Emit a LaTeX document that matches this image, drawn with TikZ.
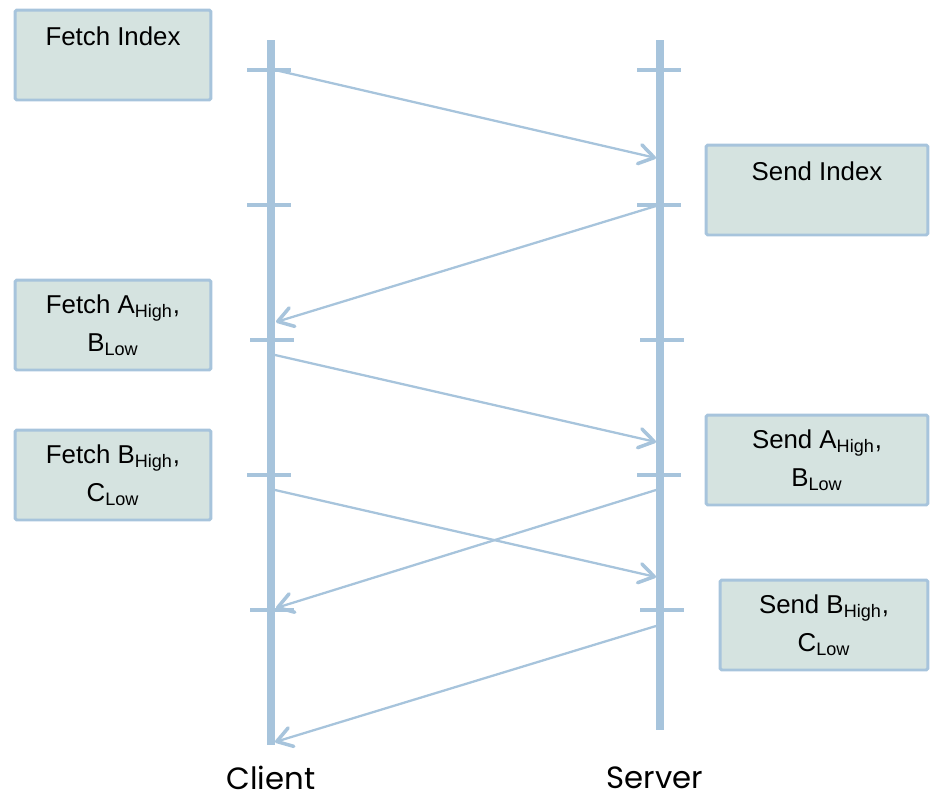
\documentclass[tikz,border=0pt]{standalone}
\usepackage{fontspec}
\setmainfont{Liberation Sans}
\newfontfamily\actorfont{Poppins}
\usetikzlibrary{arrows.meta}
\definecolor{lifeblue}{HTML}{A7C4DC}
\definecolor{boxfill}{HTML}{D5E3E0}

\begin{document}
\begin{tikzpicture}[x=0.02cm,y=-0.02cm,
  lifeline/.style={draw=lifeblue,line width=5pt},
  tick/.style={draw=lifeblue,line width=2.3pt},
  msg/.style={draw=lifeblue,line width=1.3pt,
    -{Straight Barb[length=8.5pt,width=11pt,line width=2pt,round]}},
  box/.style={draw=lifeblue,fill=boxfill,line width=1.7pt,rounded corners=1pt,
    align=center,inner sep=0pt,minimum height=1.8cm,
    font=\fontsize{14.7}{21.5}\selectfont},
  actor/.style={inner sep=0pt,font=\actorfont\fontsize{17.5}{20}\selectfont}]
\useasboundingbox (0,0) rectangle (930,798);

% lifelines with their ticks
\draw[lifeline] (271,40) -- (271,745);
\draw[lifeline] (660,40) -- (660,730);
\foreach \y/\dx in {70/0,205/0,340/3,475/0,610/3} {
  \draw[tick] (247+\dx,\y) -- (291+\dx,\y);
  \draw[tick] (637+\dx,\y) -- (681+\dx,\y);
}

% end points of the messages
\coordinate (c1) at (275,70);   \coordinate (s1) at (656,158);
\coordinate (s2) at (656,206);  \coordinate (c2) at (276,322);
\coordinate (c3) at (275,355);  \coordinate (s3) at (656,442);
\coordinate (s4) at (656,490);  \coordinate (c4) at (276,608);
\coordinate (c5) at (275,490);  \coordinate (s5) at (656,577);
\coordinate (s6) at (656,626);  \coordinate (c6) at (275,742);

\draw[msg] (c1) -- (s1);
\draw[msg] (s2) -- (c2);
\draw[msg] (c3) -- (s3);
\draw[msg] (s4) -- (c4);
\draw[msg] (c5) -- (s5);
\draw[msg] (s6) -- (c6);

% client side steps
\node[box,minimum width=3.92cm] (fetchidx) at (113,55) {Fetch Index\\\mbox{}};
\node[box,minimum width=3.92cm] (fetchab) at (113,325)
  {Fetch A\textsubscript{High},\\B\textsubscript{Low}};
\node[box,minimum width=3.92cm] (fetchbc) at (113,475)
  {Fetch B\textsubscript{High},\\C\textsubscript{Low}};

% server side steps
\node[box,minimum width=4.44cm] (sendidx) at (817,190) {Send Index\\\mbox{}};
\node[box,minimum width=4.44cm] (sendab) at (817,460)
  {Send A\textsubscript{High},\\B\textsubscript{Low}};
\node[box,minimum width=4.16cm] (sendbc) at (824,625)
  {Send B\textsubscript{High},\\C\textsubscript{Low}};

\node[actor] (client) at (271,778) {Client};
\node[actor] (server) at (655,778) {Server};
\end{tikzpicture}
\end{document}
